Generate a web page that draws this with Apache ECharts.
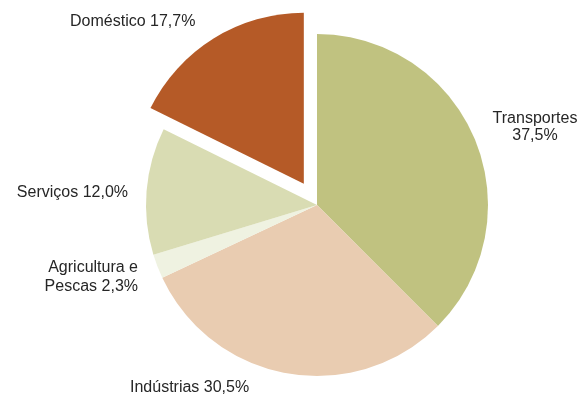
<!DOCTYPE html>
<html>
<head>
<meta charset="utf-8">
<script src="https://cdn.jsdelivr.net/npm/echarts@6/dist/echarts.min.js"></script>
<style>
  html, body { margin: 0; padding: 0; background: #ffffff; }
  #chart { width: 579px; height: 397px; }
</style>
</head>
<body>
<div id="chart"></div>
<script>
// Consumo de energia por sector (%)
var categories = ['Transportes', 'Indústrias', 'Agricultura e Pescas', 'Serviços', 'Doméstico'];
var values = [37.5, 30.5, 2.3, 12.0, 17.7];
var labelTexts = ['Transportes\n37,5%', 'Indústrias 30,5%', 'Agricultura e\nPescas 2,3%', 'Serviços 12,0%', 'Doméstico 17,7%'];
var sliceColors = ['#c0c280', '#e9ccb1', '#eff2e1', '#d9dcb3', '#b55a27'];
var explodedIndex = 4;

// label anchor placement around the pie
var labelPlacement = [
  { x: 535, y: 127, align: 'center', lineHeight: 17 },
  { x: 130, y: 388, align: 'left',   lineHeight: 17 },
  { x: 138, y: 277, align: 'right',  lineHeight: 19 },
  { x: 128, y: 193, align: 'right',  lineHeight: 17 },
  { x: 70,  y: 22,  align: 'left',   lineHeight: 17 }
];

var labelFont = { color: '#262626', family: 'Liberation Sans, Arial, sans-serif', size: 16 };

// the pulled-out slice keeps its own label outside the series so the
// selected state does not move it
var data = categories.map(function (name, i) {
  return {
    name: name,
    value: values[i],
    selected: i === explodedIndex,
    itemStyle: { color: sliceColors[i] },
    label: {
      show: i !== explodedIndex,
      formatter: labelTexts[i],
      align: labelPlacement[i].align,
      lineHeight: labelPlacement[i].lineHeight
    }
  };
});

var exploded = labelPlacement[explodedIndex];

var chart = echarts.init(document.getElementById('chart'), null, { renderer: 'canvas' });
chart.setOption({
  animation: false,
  backgroundColor: '#ffffff',
  graphic: [{
    type: 'text',
    x: exploded.x,
    y: exploded.y,
    silent: true,
    style: {
      text: labelTexts[explodedIndex],
      fill: labelFont.color,
      fontFamily: labelFont.family,
      fontSize: labelFont.size,
      align: exploded.align,
      verticalAlign: 'middle'
    }
  }],
  series: [{
    type: 'pie',
    center: [317, 205],
    radius: 171,
    startAngle: 90,
    clockwise: true,
    selectedMode: 'multiple',
    selectedOffset: 25,
    emphasis: { disabled: true },
    itemStyle: { borderWidth: 0 },
    label: {
      show: true,
      position: 'outside',
      alignTo: 'none',
      overflow: 'none',
      color: labelFont.color,
      fontFamily: labelFont.family,
      fontSize: labelFont.size
    },
    labelLine: { show: false },
    labelLayout: function (params) {
      var p = labelPlacement[params.dataIndex];
      return { x: p.x, y: p.y, align: p.align, verticalAlign: 'middle' };
    },
    data: data
  }]
});
</script>
</body>
</html>
